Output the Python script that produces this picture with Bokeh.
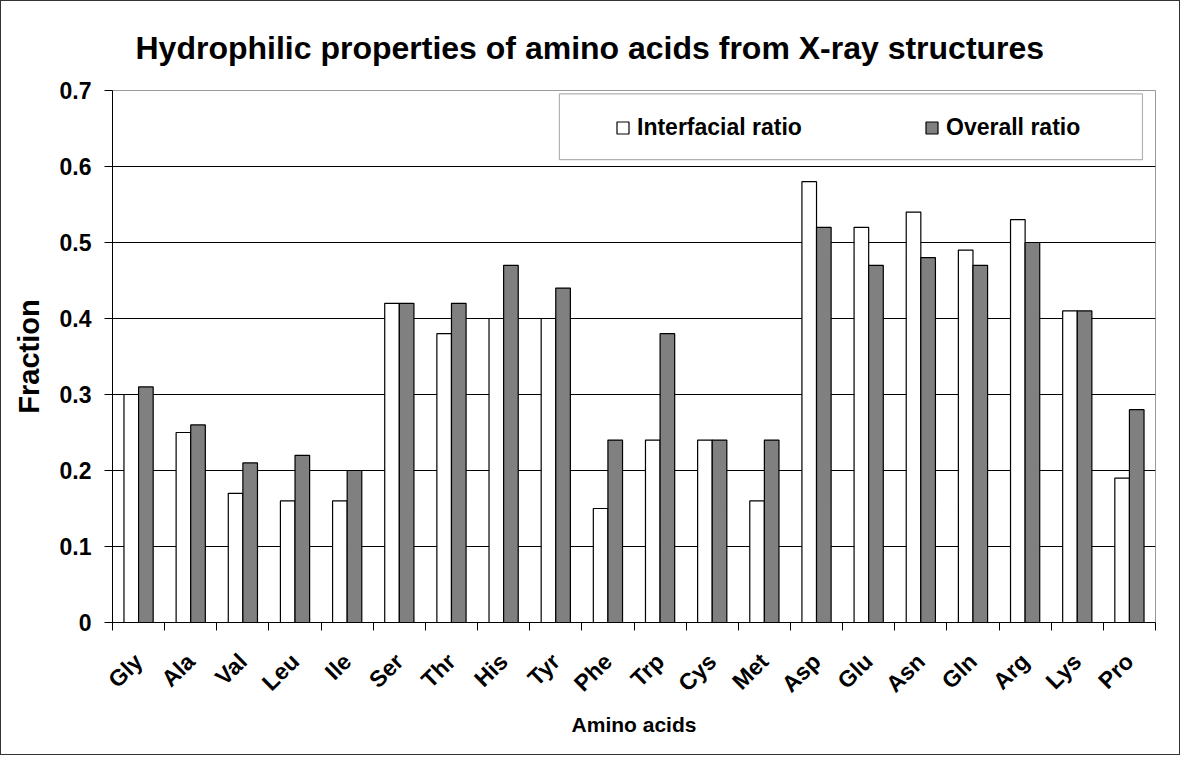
import numpy as np
from bokeh.plotting import figure
from bokeh.models import Range1d, FixedTicker, Legend, LegendItem, BoxAnnotation
from bokeh.embed import file_html
from bokeh.resources import INLINE

amino_acids = ["Gly", "Ala", "Val", "Leu", "Ile", "Ser", "Thr", "His", "Tyr", "Phe",
               "Trp", "Cys", "Met", "Asp", "Glu", "Asn", "Gln", "Arg", "Lys", "Pro"]
interfacial_ratio = [0.30, 0.25, 0.17, 0.16, 0.16, 0.42, 0.38, 0.40, 0.40, 0.15,
                     0.24, 0.24, 0.16, 0.58, 0.52, 0.54, 0.49, 0.53, 0.41, 0.19]
overall_ratio = [0.31, 0.26, 0.21, 0.22, 0.20, 0.42, 0.42, 0.47, 0.44, 0.24,
                 0.38, 0.24, 0.24, 0.52, 0.47, 0.48, 0.47, 0.50, 0.41, 0.28]
y_ticks = [0, 0.1, 0.2, 0.3, 0.4, 0.5, 0.6, 0.7]
y_tick_labels = ["0", "0.1", "0.2", "0.3", "0.4", "0.5", "0.6", "0.7"]
series_names = ["Interfacial ratio", "Overall ratio"]

FONT = "Liberation Sans"
n = len(amino_acids)
centers = [float(i) + 0.5 for i in range(n)]
bar_w = 0.28

p = figure(width=1180, height=755, x_range=Range1d(0, n), y_range=Range1d(0, 0.7),
           output_backend="svg", toolbar_location=None,
           min_border_left=111, min_border_right=26, min_border_top=89, min_border_bottom=134,
           title="Hydrophilic properties of amino acids from X-ray structures")
p.styles = {"border": "1px solid #333333"}
p.background_fill_color = "white"
p.border_fill_color = "white"
p.outline_line_color = "#999999"

r1 = p.vbar(x=[c - bar_w / 2 for c in centers], top=interfacial_ratio, width=bar_w,
            fill_color="white", line_color="black", line_width=1.2)
r2 = p.vbar(x=[c + bar_w / 2 for c in centers], top=overall_ratio, width=bar_w,
            fill_color="#808080", line_color="black", line_width=1.2)

# title
p.title.text_font = FONT
p.title.text_font_size = "32px"
p.title.text_font_style = "bold"
p.title.text_color = "black"
p.title.align = "left"
p.title.offset = 23
p.title.standoff = 50

# grid
p.xgrid.visible = False
p.ygrid.ticker = FixedTicker(ticks=y_ticks[1:-1])
p.ygrid.grid_line_color = "black"
p.ygrid.grid_line_width = 1

# y axis
ya = p.yaxis[0]
ya.ticker = FixedTicker(ticks=y_ticks)
ya.major_label_overrides = {t: s for t, s in zip(y_ticks, y_tick_labels)}
ya.major_tick_out = 8
ya.major_tick_in = 0
ya.minor_tick_line_color = None
ya.axis_line_color = "black"
ya.major_tick_line_color = "black"
ya.major_label_text_font = FONT
ya.major_label_text_font_style = "bold"
ya.major_label_text_font_size = "23px"
ya.major_label_text_color = "black"
ya.major_label_standoff = 13
ya.axis_label = "Fraction"
ya.axis_label_text_font = FONT
ya.axis_label_text_font_style = "bold"
ya.axis_label_text_font_size = "29px"
ya.axis_label_text_color = "black"
ya.axis_label_standoff = 12

# x axis
xa = p.xaxis[0]
xa.ticker = FixedTicker(ticks=centers, minor_ticks=[float(i) for i in range(n + 1)])
xa.major_label_overrides = {c: a for c, a in zip(centers, amino_acids)}
xa.major_tick_line_color = None
xa.major_tick_out = 0
xa.major_tick_in = 0
xa.minor_tick_line_color = "black"
xa.minor_tick_out = 8
xa.minor_tick_in = 0
xa.axis_line_color = "black"
xa.major_label_orientation = 0.78
xa.major_label_standoff = 27
xa.major_label_text_font = FONT
xa.major_label_text_font_style = "bold"
xa.major_label_text_font_size = "23px"
xa.major_label_text_color = "black"
xa.axis_label = "Amino acids"
xa.axis_label_text_font = FONT
xa.axis_label_text_font_style = "bold"
xa.axis_label_text_font_size = "21px"
xa.axis_label_text_color = "black"
xa.axis_label_standoff = 3

# legend box + legend
box = BoxAnnotation(left=8.57, right=19.75, top=0.6955, bottom=0.609,
                    fill_color="white", fill_alpha=1.0, line_color="black", line_width=1.2)
p.add_layout(box)
legend = Legend(items=[LegendItem(label=series_names[0], renderers=[r1]),
                       LegendItem(label=series_names[1], renderers=[r2])],
                orientation="horizontal", location=(503, 481), padding=0, spacing=0,
                margin=0, border_line_color=None, background_fill_alpha=0,
                glyph_width=15, glyph_height=15, label_standoff=7, label_width=287,
                label_text_font=FONT, label_text_font_style="bold",
                label_text_font_size="23px", label_text_color="black")
p.add_layout(legend)

open("out.html", "w").write(file_html(p, INLINE))
